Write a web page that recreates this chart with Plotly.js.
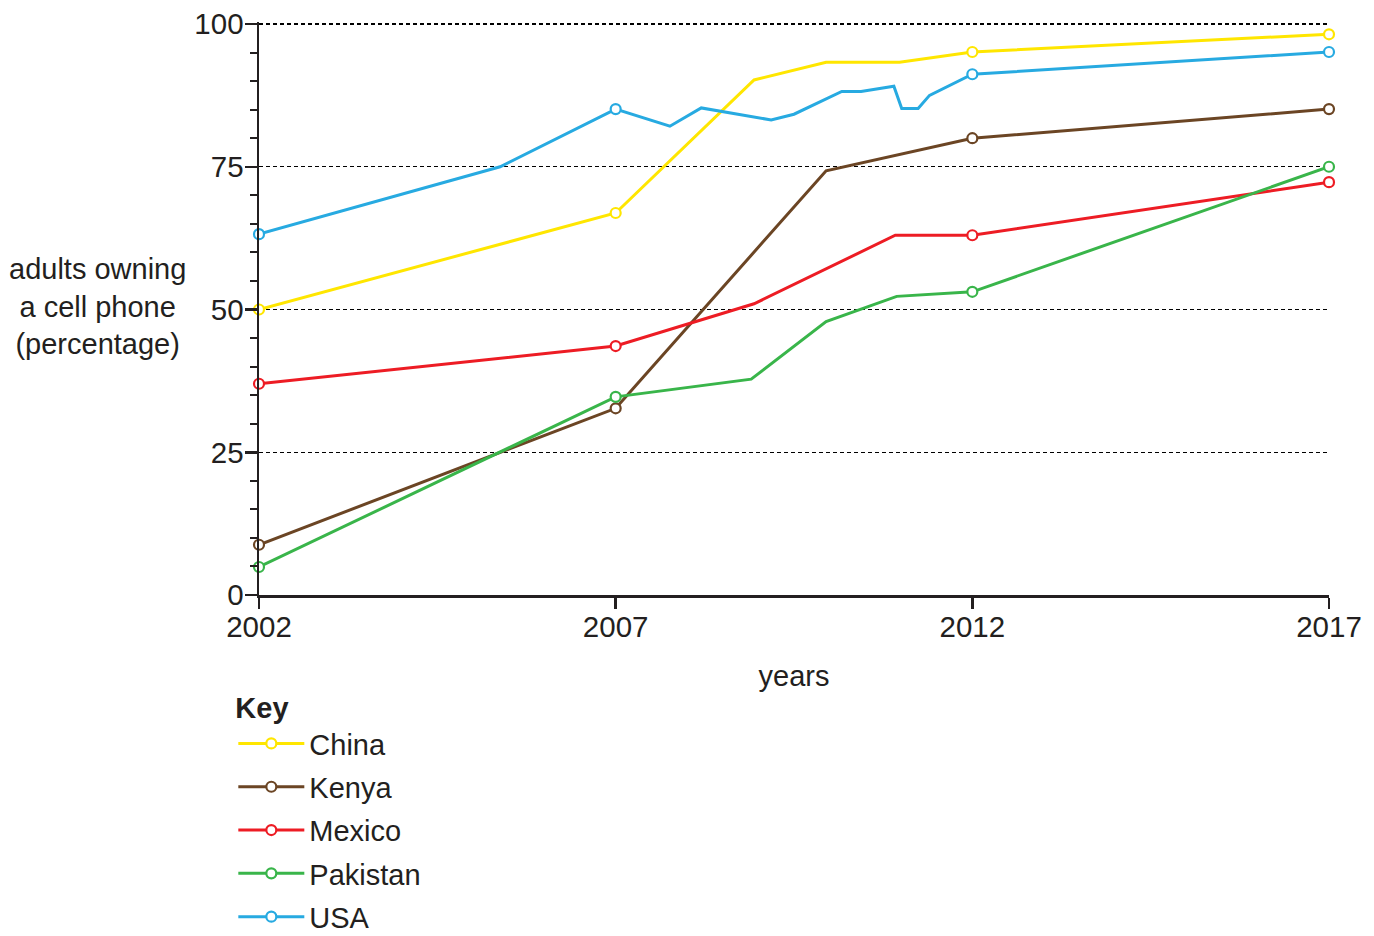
<!DOCTYPE html>
<html>
<head>
<meta charset="utf-8">
<script src="https://cdn.plot.ly/plotly-3.0.1.min.js"></script>
<style>
html,body{margin:0;padding:0;background:#fff;}
#chart{width:1374px;height:936px;}
</style>
</head>
<body>
<div id="chart"></div>
<script>
// Key years (marked with circles)
const keyYears = [2002, 2007, 2012, 2017];
const tickLabels = ["2002", "2007", "2012", "2017"];
const yTicks = [0, 25, 50, 75, 100];

// Full line paths (year, percentage)
const chinaYears = [2002, 2007, 2008.94, 2009.95, 2010.98, 2012, 2017];
const chinaVals  = [50.0, 66.9, 90.2, 93.3, 93.3, 95.1, 98.2];

const kenyaYears = [2002, 2007, 2009.95, 2012, 2017];
const kenyaVals  = [8.8, 32.7, 74.3, 80.0, 85.1];

const mexicoYears = [2002, 2007, 2008.94, 2010.92, 2012, 2017];
const mexicoVals  = [37.0, 43.6, 51.0, 63.0, 63.0, 72.3];

const pakistanYears = [2002, 2007, 2008.9, 2009.95, 2010.94, 2012, 2017];
const pakistanVals  = [4.9, 34.7, 37.8, 47.9, 52.3, 53.1, 75.0];

const usaYears = [2002, 2005.38, 2007, 2007.76, 2008.2, 2009.18, 2009.5, 2010.17, 2010.44, 2010.9, 2011.01, 2011.24, 2011.4, 2012, 2017];
const usaVals  = [63.2, 75.0, 85.1, 82.1, 85.3, 83.2, 84.2, 88.2, 88.2, 89.1, 85.2, 85.2, 87.5, 91.2, 95.1];

// Values at the key years (circle markers)
const chinaKey    = [50.0, 66.9, 95.1, 98.2];
const kenyaKey    = [8.8, 32.7, 80.0, 85.1];
const mexicoKey   = [37.0, 43.6, 63.0, 72.3];
const pakistanKey = [4.9, 34.7, 53.1, 75.0];
const usaKey      = [63.2, 85.1, 91.2, 95.1];

const seriesNames = ["China", "Kenya", "Mexico", "Pakistan", "USA"];
const colors = ["#ffe600", "#6b4524", "#ed1c24", "#39b54a", "#27aae1"];

const paths = [
  [chinaYears, chinaVals],
  [kenyaYears, kenyaVals],
  [mexicoYears, mexicoVals],
  [pakistanYears, pakistanVals],
  [usaYears, usaVals]
];
const keys = [chinaKey, kenyaKey, mexicoKey, pakistanKey, usaKey];

const LW = 3;
const MS = 10;
const MLW = 2.2;
const traces = [];
for (let i = 0; i < seriesNames.length; i++) {
  traces.push({
    x: paths[i][0], y: paths[i][1], type: 'scatter', mode: 'lines',
    line: {color: colors[i], width: LW}, showlegend: false, hoverinfo: 'skip',
    cliponaxis: false, legendgroup: 'g' + i
  });
}
for (let i = 0; i < seriesNames.length; i++) {
  traces.push({
    x: keyYears, y: keys[i], type: 'scatter', mode: 'markers',
    marker: {symbol: 'circle', size: MS, color: '#ffffff', line: {color: colors[i], width: MLW}},
    showlegend: false, cliponaxis: false, legendgroup: 'g' + i
  });
}
for (let i = 0; i < seriesNames.length; i++) {
  traces.push({
    x: [null], y: [null], type: 'scatter', mode: 'lines+markers', name: seriesNames[i],
    line: {color: colors[i], width: LW},
    marker: {symbol: 'circle', size: MS, color: '#ffffff', line: {color: colors[i], width: MLW}},
    showlegend: true, legendgroup: 'g' + i
  });
}

const txt = '#231f20';
const FONT = 'Liberation Sans, Arial, sans-serif';
const FS = 29;

const layout = {
  width: 1374, height: 936,
  margin: {l: 259, r: 45, t: 22, b: 341, autoexpand: false},
  paper_bgcolor: '#fff', plot_bgcolor: '#fff',
  font: {family: FONT, size: FS, color: txt},
  showlegend: true,
  xaxis: {
    range: [2002, 2017], tickvals: keyYears, ticktext: tickLabels,
    showgrid: false, zeroline: false, showline: true, linecolor: txt, linewidth: 2.5,
    ticks: 'outside', ticklen: 11, tickwidth: 2.5, tickcolor: txt,
    tickfont: {size: 29.5, color: txt},
    ticklabelstandoff: -7,
    title: {text: 'years', font: {size: FS, color: txt}, standoff: 24},
    fixedrange: true
  },
  yaxis: {
    range: [0, 100.35], tickvals: yTicks,
    showgrid: true, gridcolor: '#000', gridwidth: 1.4, griddash: '4px,3px',
    zeroline: false, showline: true, linecolor: txt, linewidth: 2.5,
    ticks: 'outside', ticklen: 12, tickwidth: 2.5, tickcolor: txt,
    tickfont: {size: 29.5, color: txt},
    ticklabelstandoff: -5,
    minor: {dtick: 5, tick0: 0, ticks: 'outside', ticklen: 7, tickwidth: 2, tickcolor: txt, showgrid: false},
    fixedrange: true
  },
  legend: {
    x: -0.024, xanchor: 'left', y: -0.149, yanchor: 'top',
    title: {text: '<b>Key</b>', font: {size: FS, color: txt}},
    font: {size: FS, color: txt},
    itemwidth: 66, bgcolor: 'rgba(0,0,0,0)',
    traceorder: 'grouped', tracegroupgap: 2.6
  },
  annotations: [{
    xref: 'paper', yref: 'paper', x: -0.151, y: 0.504, xanchor: 'center', yanchor: 'middle',
    text: 'adults owning<br>a cell phone<br>(percentage)', showarrow: false,
    font: {size: FS, color: txt}, align: 'center'
  }]
};

Plotly.newPlot('chart', traces, layout, {displayModeBar: false, staticPlot: true});
</script>
</body>
</html>
